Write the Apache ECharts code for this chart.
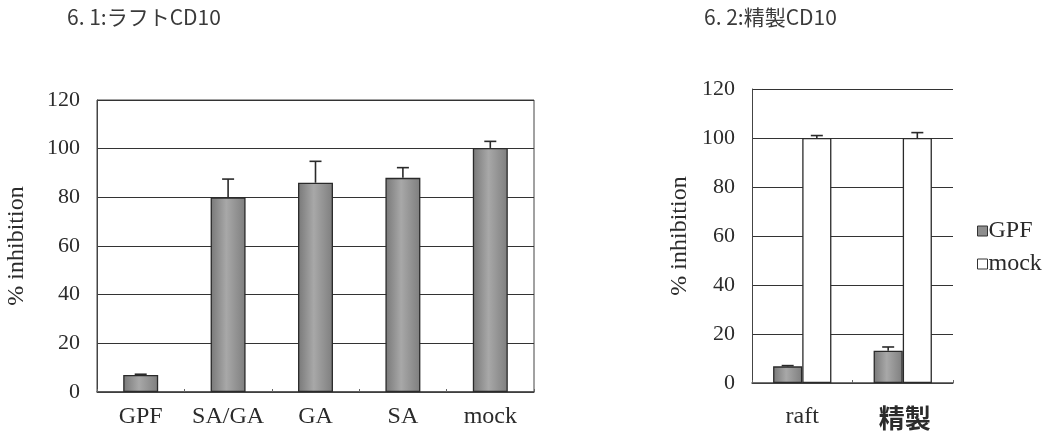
<!DOCTYPE html>
<html>
<head>
<meta charset="utf-8">
<script src="https://cdn.jsdelivr.net/npm/echarts@6/dist/echarts.min.js"></script>
<style>
  html, body { margin: 0; padding: 0; background: #fff; }
  #chart { width: 1053px; height: 438px; }
</style>
</head>
<body>
<div id="chart"></div>
<script>
// Panel 6.1: raft CD10 inhibition per treatment
const leftCategories = ['GPF', 'SA/GA', 'GA', 'SA', 'mock'];
const leftValues = [7, 80, 86, 88, 100.3];
const leftErrors = [0.3, 7.5, 8.8, 4.2, 2.7];

// Panel 6.2: purified CD10, GPF vs mock
const rightCategories = ['raft', '精製'];
const rightGPF = [6.8, 13.2];
const rightGPFErr = [0.3, 1.5];
const rightMock = [100, 100];
const rightMockErr = [1.0, 2.2];

const yTicks = [0, 20, 40, 60, 80, 100, 120];

const serif = '"Liberation Serif", "DejaVu Serif", serif';
const cjk = '"Noto Sans CJK JP", "Noto Sans CJK SC", sans-serif';
const ink = '#2b2b2b';

const gpfFill = {
  type: 'linear', x: 0, y: 0, x2: 1, y2: 0,
  colorStops: [
    { offset: 0, color: '#787878' },
    { offset: 0.45, color: '#a8a8a8' },
    { offset: 1, color: '#7e7e7e' }
  ]
};

function yAxisFor(gridIndex, nameGap) {
  return {
    type: 'value', gridIndex: gridIndex, min: yTicks[0], max: yTicks[yTicks.length - 1], interval: 20,
    name: '% inhibition', nameLocation: 'middle', nameGap: nameGap,
    nameTextStyle: { fontFamily: serif, fontSize: 24, color: ink },
    axisLine: { show: true, lineStyle: { color: '#444', width: 1 } },
    axisTick: { show: false },
    axisLabel: { fontFamily: serif, fontSize: 22, color: ink, margin: 17 },
    splitLine: { show: true, lineStyle: { color: '#333', width: 1 } }
  };
}

// Upward-only error bars drawn at each bar's top
function errorSeries(xi, yi, values, errors, slot, slots, gapFrac) {
  return {
    type: 'custom', xAxisIndex: xi, yAxisIndex: yi, z: 5,
    data: values.map((v, i) => [i, v, v + errors[i]]),
    renderItem: function (params, api) {
      const idx = api.value(0);
      const base = api.coord([idx, api.value(1)]);
      const top = api.coord([idx, api.value(2)]);
      const cat = api.size([1, 0])[0];
      const barW = cat * (1 - gapFrac) / slots;
      const x = base[0] + (slot - (slots - 1) / 2) * barW;
      const half = 6;
      const style = { stroke: '#2a2a2a', lineWidth: 1.6, fill: null };
      return {
        type: 'group',
        children: [
          { type: 'line', shape: { x1: x, y1: base[1], x2: x, y2: top[1] }, style: style },
          { type: 'line', shape: { x1: x - half, y1: top[1], x2: x + half, y2: top[1] }, style: style }
        ]
      };
    }
  };
}

const chart = echarts.init(document.getElementById('chart'));
chart.setOption({
  animation: false,
  backgroundColor: '#fff',
  title: [
    { text: '6. 1:ラフトCD10', left: 62, top: 2, textStyle: { fontFamily: cjk, fontSize: 21, fontWeight: 'normal', color: '#3a3a3a' } },
    { text: '6. 2:精製CD10', left: 699, top: 2, textStyle: { fontFamily: cjk, fontSize: 21, fontWeight: 'normal', color: '#3a3a3a' } }
  ],
  legend: {
    orient: 'vertical', left: 972, top: 214, itemGap: 9,
    itemWidth: 10, itemHeight: 10, icon: 'rect',
    textStyle: { fontFamily: serif, fontSize: 24, color: ink, padding: [0, 0, 0, -4] },
    data: [
      { name: 'GPF', itemStyle: { color: '#8e8e8e', borderColor: '#333', borderWidth: 1 } },
      { name: 'mock', itemStyle: { color: '#fff', borderColor: '#333', borderWidth: 1 } }
    ]
  },
  grid: [
    { left: 97, right: 519, top: 100, bottom: 46, show: true, borderColor: '#444', borderWidth: 1, backgroundColor: 'transparent' },
    { left: 752, right: 100, top: 89, bottom: 55 }
  ],
  xAxis: [
    {
      type: 'category', gridIndex: 0, data: leftCategories,
      axisLine: { lineStyle: { color: '#444', width: 1.5 } },
      axisTick: { show: true, inside: true, length: 3, lineStyle: { color: '#666' } },
      axisLabel: { fontFamily: serif, fontSize: 24, color: ink, margin: 13, interval: 0, hideOverlap: false }
    },
    {
      type: 'category', gridIndex: 1, data: rightCategories,
      axisLine: { lineStyle: { color: '#444', width: 1.5 } },
      axisTick: { show: true, inside: true, length: 3, lineStyle: { color: '#666' } },
      axisLabel: {
        color: ink, margin: 22, interval: 0, hideOverlap: false,
        formatter: function (v) { return v === 'raft' ? '{r|' + v + '}' : '{c|' + v + '}'; },
        rich: {
          r: { fontFamily: serif, fontSize: 24, color: ink },
          c: { fontFamily: cjk, fontSize: 26, fontWeight: 'bold', color: ink, padding: [0, 0, 0, 4] }
        }
      }
    }
  ],
  yAxis: [yAxisFor(0, 68), yAxisFor(1, 60)],
  series: [
    {
      name: 'GPF', type: 'bar', xAxisIndex: 0, yAxisIndex: 0, data: leftValues,
      barCategoryGap: '60%',
      itemStyle: { color: gpfFill, borderColor: '#2a2a2a', borderWidth: 1.3 }
    },
    errorSeries(0, 0, leftValues, leftErrors, 0, 1, 0.6),
    {
      name: 'GPF', type: 'bar', xAxisIndex: 1, yAxisIndex: 1, data: rightGPF,
      barGap: '0%', barCategoryGap: '42%',
      itemStyle: { color: gpfFill, borderColor: '#2a2a2a', borderWidth: 1.3 }
    },
    {
      name: 'mock', type: 'bar', xAxisIndex: 1, yAxisIndex: 1, data: rightMock,
      barGap: '0%', barCategoryGap: '42%',
      itemStyle: { color: '#fff', borderColor: '#2a2a2a', borderWidth: 1.3 }
    },
    errorSeries(1, 1, rightGPF, rightGPFErr, 0, 2, 0.42),
    errorSeries(1, 1, rightMock, rightMockErr, 1, 2, 0.42)
  ]
});
</script>
</body>
</html>
